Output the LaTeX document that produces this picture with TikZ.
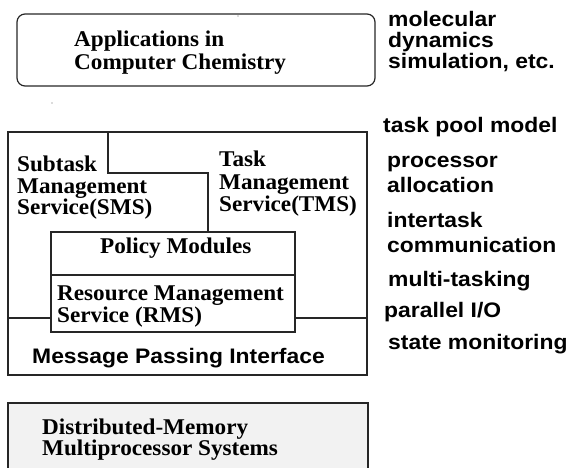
\documentclass[tikz,border=0pt]{standalone}
\usepackage{fontspec}
\setmainfont[FakeStretch=1.03]{Liberation Serif}
\newfontfamily\hvbold[FakeStretch=1.09]{Liberation Sans}
% left-aligned lines with a fixed baseline distance; baseline = first line
\newcommand\stacklines[2]{\vtop{\baselineskip=#1\lineskiplimit=-\maxdimen\lineskip=0pt\halign{##\hfil\cr#2\crcr}}}
\tikzset{
  serifbold/.style={font=\fontsize{22.5}{22}\selectfont\bfseries, inner sep=0pt, anchor=base west},
  sansbold/.style={font=\hvbold\bfseries\fontsize{21}{25}\selectfont, inner sep=0pt, anchor=base west},
  frame/.style={draw=black!85, line width=1.2pt},
}
\begin{document}
\begin{tikzpicture}[x=1pt, y=-1pt]
  \useasboundingbox (0,0) rectangle (571,468);

  % application layer
  \draw[frame, rounded corners=8pt] (17,14) rectangle (375,86);
  \node[serifbold] (apps) at (74,47) {\stacklines{23pt}{Applications in\cr Computer Chemistry}};
  \fill[black!60] (238,16) circle (0.6pt);
  \fill[black!60] (52,103) circle (0.6pt);

  % runtime layer
  \draw[frame] (8,132) rectangle (367,375);
  \draw[frame] (108,132) -- (108,173) -- (208,173) -- (208,232);
  \draw[frame] (8,318) -- (51,318);
  \draw[frame] (295,318) -- (367,318);
  \draw[frame, fill=white] (51,232) rectangle (295,332);
  \draw[frame] (51,275) -- (295,275);

  \node[serifbold] (sms) at (17,172) {\stacklines{21.5pt}{Subtask\cr Management\cr Service(SMS)}};
  \node[serifbold] (tms) at (219,167) {\stacklines{22.5pt}{Task\cr Management\cr Service(TMS)}};
  \node[serifbold] (policy) at (100,254) {Policy Modules};
  \node[serifbold] (rms) at (57,300) {\stacklines{22pt}{Resource Management\cr Service (RMS)}};
  \node[sansbold] (mpi) at (32,363) {Message Passing Interface};

  % hardware layer
  \draw[frame, fill=black!5] (8,403) rectangle (368,490);
  \node[serifbold] (hw) at (42,434) {\stacklines{21pt}{Distributed-Memory\cr Multiprocessor Systems}};

  % feature notes
  \node[sansbold] (md) at (388,27) {\stacklines{21pt}{molecular\cr dynamics\cr simulation, etc.}};
  \node[sansbold] (pool) at (383,133) {task pool model};
  \node[sansbold] (alloc) at (387,168) {\stacklines{25pt}{processor\cr allocation}};
  \node[sansbold] (comm) at (387,228) {\stacklines{25pt}{intertask\cr communication}};
  \node[sansbold] (multi) at (388,287) {multi-tasking};
  \node[sansbold] (pio) at (384,317) {parallel I/O};
  \node[sansbold] (mon) at (388,349) {state monitoring};
\end{tikzpicture}
\end{document}
